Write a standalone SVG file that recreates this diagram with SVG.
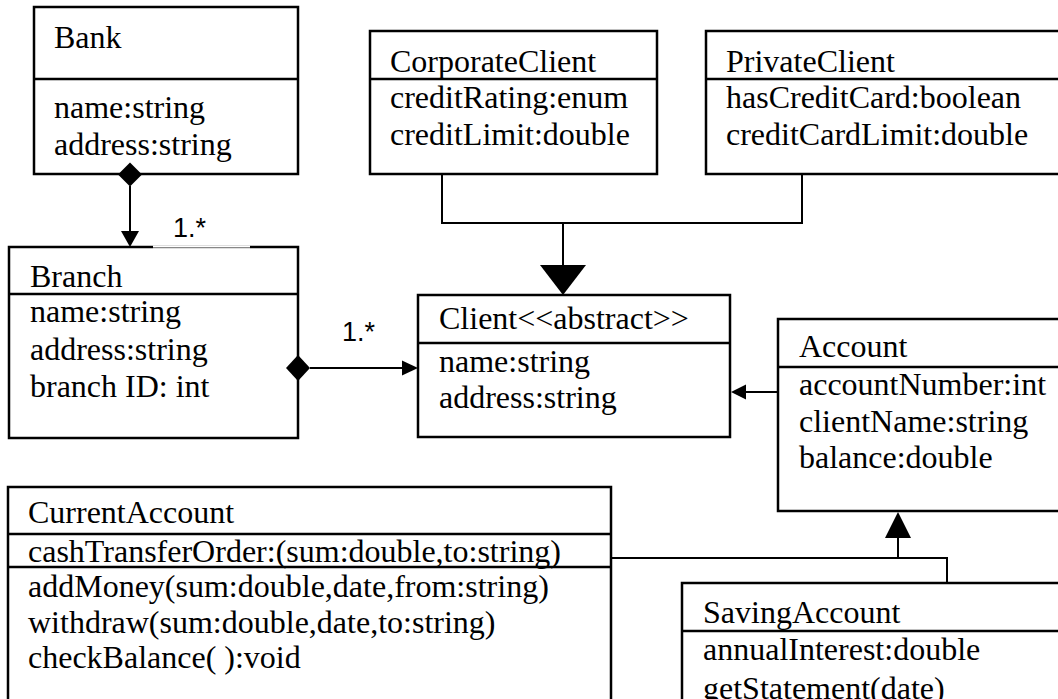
<svg xmlns="http://www.w3.org/2000/svg" width="1058" height="699" viewBox="0 0 1058 699">
  <style>
    .box { fill: #ffffff; stroke: #000000; stroke-width: 2.5; }
    .sep { stroke: #000000; stroke-width: 2.5; }
    .t { font-family: "Liberation Serif", "Times New Roman", serif; font-size: 32px; fill: #000000; }
    .mult { font-family: "Liberation Sans", Arial, sans-serif; font-size: 27px; fill: #000000; }
    .wire { fill: none; stroke: #000000; stroke-width: 2; }
    .head { fill: #000000; stroke: none; }
  </style>
  <rect width="1058" height="699" fill="#ffffff"/>

  <!-- Bank -->
  <g id="bank">
    <rect class="box" x="34" y="7" width="264" height="167"/>
    <line class="sep" x1="34" y1="79" x2="298" y2="79"/>
    <text class="t" x="54" y="48">Bank</text>
    <text class="t" x="54" y="118">name:string</text>
    <text class="t" x="54" y="155">address:string</text>
  </g>

  <!-- CorporateClient -->
  <g id="corporate-client">
    <rect class="box" x="370" y="31" width="287" height="143"/>
    <line class="sep" x1="370" y1="79" x2="657" y2="79"/>
    <text class="t" x="390" y="72">CorporateClient</text>
    <text class="t" x="390" y="108">creditRating:enum</text>
    <text class="t" x="390" y="145">creditLimit:double</text>
  </g>

  <!-- PrivateClient -->
  <g id="private-client">
    <rect class="box" x="706" y="31" width="360" height="143"/>
    <line class="sep" x1="706" y1="79" x2="1066" y2="79"/>
    <text class="t" x="726" y="72">PrivateClient</text>
    <text class="t" x="726" y="108">hasCreditCard:boolean</text>
    <text class="t" x="726" y="145">creditCardLimit:double</text>
  </g>

  <!-- Branch -->
  <g id="branch">
    <rect class="box" x="9" y="247" width="289" height="191"/>
    <line class="sep" x1="9" y1="294" x2="298" y2="294"/>
    <!-- label backdrop thins the top edge under the multiplicity -->
    <line x1="153" y1="247" x2="250" y2="247" stroke="#ffffff" stroke-width="3"/>
    <line x1="153" y1="247.5" x2="250" y2="247.5" stroke="#888888" stroke-width="1"/>
    <text class="t" x="30" y="287">Branch</text>
    <text class="t" x="30" y="322">name:string</text>
    <text class="t" x="30" y="360">address:string</text>
    <text class="t" x="30" y="397">branch ID: int</text>
  </g>

  <!-- Client -->
  <g id="client">
    <rect class="box" x="418" y="295" width="312" height="142"/>
    <line class="sep" x1="418" y1="343" x2="730" y2="343"/>
    <text class="t" x="439" y="329">Client&lt;&lt;abstract&gt;&gt;</text>
    <text class="t" x="439" y="372">name:string</text>
    <text class="t" x="439" y="408">address:string</text>
  </g>

  <!-- Account -->
  <g id="account">
    <rect class="box" x="778" y="319" width="290" height="192"/>
    <line class="sep" x1="778" y1="367" x2="1068" y2="367"/>
    <text class="t" x="799" y="357">Account</text>
    <text class="t" x="799" y="395">accountNumber:int</text>
    <text class="t" x="799" y="432">clientName:string</text>
    <text class="t" x="799" y="468">balance:double</text>
  </g>

  <!-- CurrentAccount -->
  <g id="current-account">
    <rect class="box" x="8" y="487" width="603" height="230"/>
    <line class="sep" x1="8" y1="534" x2="611" y2="534"/>
    <line class="sep" x1="8" y1="567" x2="611" y2="567"/>
    <text class="t" x="28" y="523">CurrentAccount</text>
    <text class="t" x="28" y="562">cashTransferOrder:(sum:double,to:string)</text>
    <text class="t" x="28" y="597">addMoney(sum:double,date,from:string)</text>
    <text class="t" x="28" y="633">withdraw(sum:double,date,to:string)</text>
    <text class="t" x="28" y="668">checkBalance( ):void</text>
  </g>

  <!-- SavingAccount -->
  <g id="saving-account">
    <rect class="box" x="682" y="583" width="390" height="140"/>
    <line class="sep" x1="682" y1="631" x2="1072" y2="631"/>
    <text class="t" x="703" y="623">SavingAccount</text>
    <text class="t" x="703" y="660">annualInterest:double</text>
    <text class="t" x="703" y="699">getStatement(date)</text>
  </g>

  <!-- Connectors -->
  <g id="connectors">
    <!-- Bank composes Branch -->
    <line class="wire" x1="130" y1="186" x2="130" y2="232"/>
    <polygon class="head" points="118,174.5 130,162.5 142,174.5 130,186.5"/>
    <polygon class="head" points="121,231 139,231 130,247"/>
    <text class="mult" x="173" y="237">1.*</text>

    <!-- Branch composes Client -->
    <line class="wire" x1="310" y1="368" x2="403" y2="368"/>
    <polygon class="head" points="286,368 298,355 310,368 298,381"/>
    <polygon class="head" points="402,360.5 402,375.5 418,368"/>
    <text class="mult" x="342" y="341">1.*</text>

    <!-- CorporateClient / PrivateClient generalise to Client -->
    <polyline class="wire" points="442,174 442,223 802,223 802,174"/>
    <line class="wire" x1="563" y1="223" x2="563" y2="266"/>
    <polygon class="head" points="540,265 586,265 563,295"/>

    <!-- Account refers to Client -->
    <line class="wire" x1="778" y1="392" x2="745" y2="392"/>
    <polygon class="head" points="746,384.5 746,399.5 731,392"/>

    <!-- CurrentAccount / SavingAccount generalise to Account -->
    <polyline class="wire" points="611,558 947,558 947,583"/>
    <line class="wire" x1="898" y1="558" x2="898" y2="537"/>
    <polygon class="head" points="885,538 911,538 898,512"/>
  </g>
</svg>
